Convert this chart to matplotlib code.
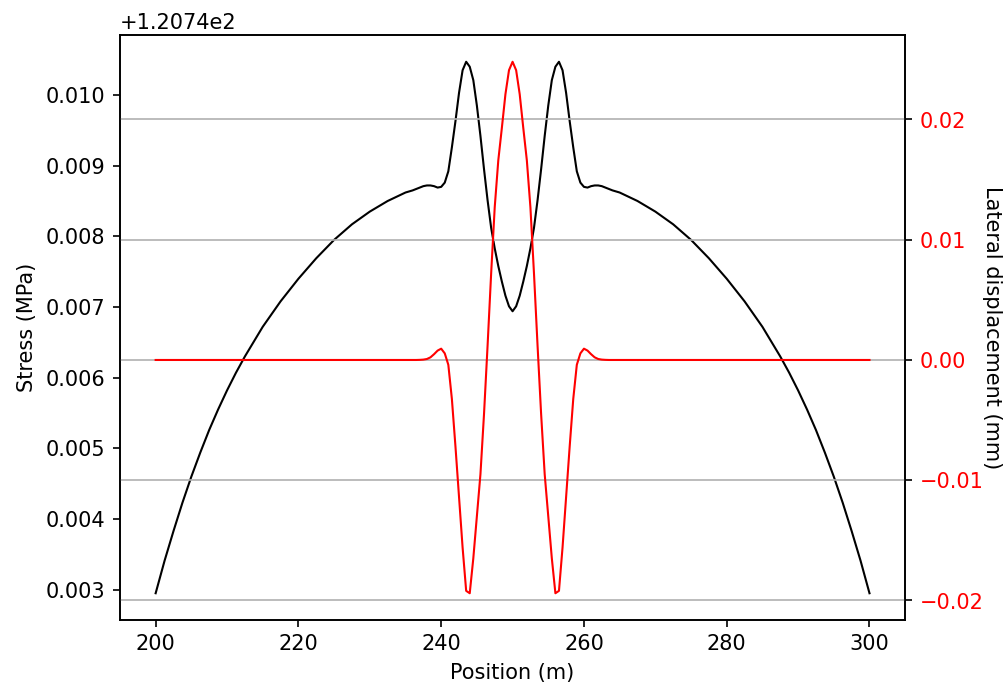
import matplotlib
matplotlib.use("Agg")
import matplotlib.pyplot as plt

# positions along the line (m)
position = [200.0, 201.25, 202.5, 203.75, 205.0, 206.25, 207.5, 208.75, 210.0, 211.25,
            212.5, 215.0, 217.5, 220.0, 222.5, 225.0, 227.5, 230.0, 232.5, 235.0,
            236.0, 236.5, 237.0, 237.5, 238.0, 238.5, 239.0, 239.5, 240.0, 240.5,
            241.0, 241.5, 242.0, 242.5, 243.0, 243.5, 244.0, 244.5, 245.0, 245.5,
            246.0, 246.5, 247.0, 247.5, 248.0, 248.5, 249.0, 249.5, 250.0, 250.5,
            251.0, 251.5, 252.0, 252.5, 253.0, 253.5, 254.0, 254.5, 255.0, 255.5,
            256.0, 256.5, 257.0, 257.5, 258.0, 258.5, 259.0, 259.5, 260.0, 260.5,
            261.0, 261.5, 262.0, 262.5, 263.0, 263.5, 264.0,
            265.0, 267.5, 270.0, 272.5, 275.0, 277.5, 280.0, 282.5, 285.0, 287.5,
            288.75, 290.0, 291.25, 292.5, 293.75, 295.0, 296.25, 297.5, 298.75, 300.0]

# stress (MPa)
stress = [120.74295, 120.74341, 120.74383, 120.74423, 120.74460, 120.74494, 120.74526,
          120.74555, 120.74582, 120.74607, 120.74630, 120.74672, 120.74708, 120.74740,
          120.74769, 120.74795, 120.74817, 120.74835, 120.74850, 120.74862,
          120.74865, 120.74867, 120.74869, 120.74871, 120.74872, 120.74872, 120.74871,
          120.74869, 120.74870, 120.74876, 120.74892, 120.74926, 120.74963, 120.75003,
          120.75035, 120.75047, 120.75040, 120.75021, 120.74985, 120.74942, 120.74895,
          120.74851, 120.74812, 120.74783, 120.74758, 120.74736, 120.74716, 120.74701,
          120.74694,
          120.74701, 120.74716, 120.74736, 120.74758, 120.74783, 120.74812, 120.74851,
          120.74895, 120.74942, 120.74985, 120.75021, 120.75040, 120.75047, 120.75035,
          120.75003, 120.74963, 120.74926, 120.74892, 120.74876, 120.74870, 120.74869,
          120.74871, 120.74872, 120.74872, 120.74871, 120.74869, 120.74867, 120.74865,
          120.74862, 120.74850, 120.74835, 120.74817, 120.74795, 120.74769, 120.74740,
          120.74708, 120.74672, 120.74630, 120.74607, 120.74582, 120.74555, 120.74526,
          120.74494, 120.74460, 120.74423, 120.74383, 120.74341, 120.74295]

# lateral displacement (mm)
displacement = [0.0, 0.0, 0.0, 0.0, 0.0, 0.0, 0.0, 0.0, 0.0, 0.0,
                0.0, 0.0, 0.0, 0.0, 0.0, 0.0, 0.0, 0.0, 0.0, 0.0,
                0.0, 0.0, 0.00001, 0.00003, 0.00008, 0.00022, 0.00048, 0.00078, 0.00094,
                0.00055, -0.00040, -0.00325, -0.0072, -0.0114, -0.0156, -0.0192, -0.0194,
                -0.0165, -0.0130, -0.0095, -0.0045, 0.0012, 0.0072, 0.0127, 0.0166,
                0.0193, 0.0221, 0.0241, 0.0248,
                0.0241, 0.0221, 0.0193, 0.0166, 0.0127, 0.0072, 0.0012, -0.0045,
                -0.0095, -0.0130, -0.0165, -0.0194, -0.0192, -0.0156, -0.0114, -0.0072,
                -0.00325, -0.00040, 0.00055, 0.00094, 0.00078, 0.00048, 0.00022, 0.00008,
                0.00003, 0.00001, 0.0, 0.0,
                0.0, 0.0, 0.0, 0.0, 0.0, 0.0, 0.0, 0.0, 0.0, 0.0,
                0.0, 0.0, 0.0, 0.0, 0.0, 0.0, 0.0, 0.0, 0.0, 0.0]

fig, ax1 = plt.subplots(figsize=(6.72, 4.607), dpi=150)
fig.subplots_adjust(left=0.119, right=0.898, top=0.949, bottom=0.103)

ax1.plot(position, stress, color="black", linewidth=1.0)
ax1.set_xlabel("Position (m)")
ax1.set_ylabel("Stress (MPa)")

ax2 = ax1.twinx()
ax2.plot(position, displacement, color="red", linewidth=1.0)
ax2.set_ylabel("Lateral displacement (mm)", rotation=270, labelpad=9)
ax2.tick_params(axis="y", labelcolor="red")
ax2.grid(True)

plt.savefig("out.png")
